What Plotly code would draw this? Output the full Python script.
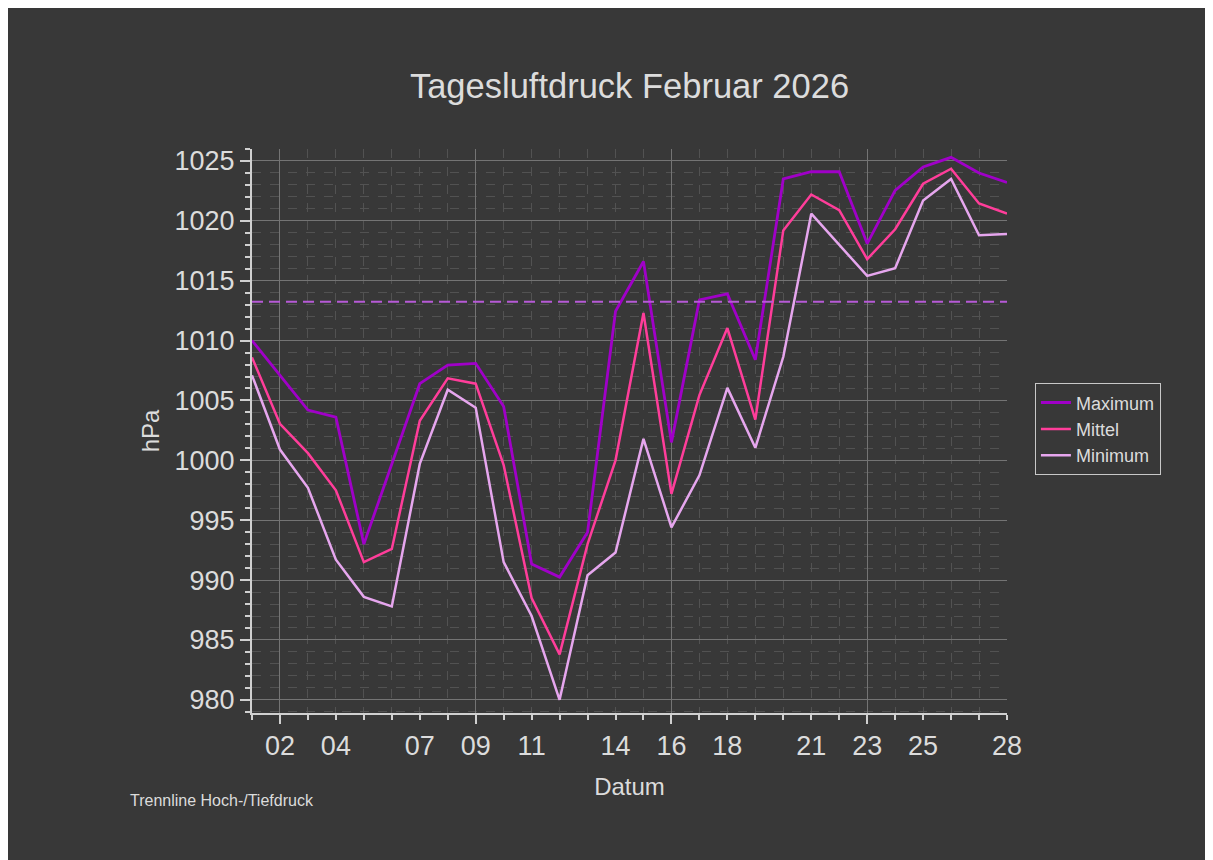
import plotly.graph_objects as go

# Tageswerte Luftdruck Februar 2026 (hPa)
tage = ["2026-02-%02d" % d for d in range(1, 29)]
maximum = [1010.0, 1007.1, 1004.2, 1003.6, 993.0, 999.7, 1006.4, 1007.95, 1008.1, 1004.5,
           991.35, 990.25, 994.0, 1012.45, 1016.6, 1001.5, 1013.4, 1013.9, 1008.4, 1023.5,
           1024.1, 1024.1, 1018.1, 1022.55, 1024.5, 1025.3, 1024.0, 1023.2]
mittel = [1008.6, 1003.05, 1000.6, 997.5, 991.5, 992.6, 1003.3, 1006.85, 1006.4, 999.6,
          988.5, 983.8, 993.0, 1000.0, 1012.3, 997.2, 1005.45, 1011.05, 1003.4, 1019.2,
          1022.2, 1020.9, 1016.8, 1019.3, 1023.1, 1024.35, 1021.45, 1020.6]
minimum = [1007.1, 1000.9, 997.7, 991.7, 988.6, 987.8, 999.7, 1005.9, 1004.4, 991.5,
           987.0, 980.0, 990.4, 992.3, 1001.8, 994.4, 998.75, 1006.05, 1001.05, 1008.65,
           1020.6, 1018.0, 1015.4, 1016.05, 1021.7, 1023.5, 1018.8, 1018.9]
trennlinie = 1013.25

label_tage = ["2026-02-02", "2026-02-04", "2026-02-07", "2026-02-09", "2026-02-11", "2026-02-14",
              "2026-02-16", "2026-02-18", "2026-02-21", "2026-02-23", "2026-02-25", "2026-02-28"]
label_text = ["02", "04", "07", "09", "11", "14", "16", "18", "21", "23", "25", "28"]
wochen_tage = ["2026-02-02", "2026-02-09", "2026-02-16", "2026-02-23"]

bg = "#383838"
txt = "#dcdcdc"
achse = "#d0d0d0"

fig = go.Figure()
fig.add_trace(go.Scatter(x=tage, y=maximum, mode="lines", name="Maximum",
                         line=dict(color="#a000c8", width=2.8)))
fig.add_trace(go.Scatter(x=tage, y=mittel, mode="lines", name="Mittel",
                         line=dict(color="#ff3d9a", width=2.5)))
fig.add_trace(go.Scatter(x=tage, y=minimum, mode="lines", name="Minimum",
                         line=dict(color="#e6a6ee", width=2.5)))
# unsichtbare Spur, damit die Beschriftungsachse gezeichnet wird
fig.add_trace(go.Scatter(x=tage, y=mittel, xaxis="x2", mode="lines", opacity=0,
                         showlegend=False, hoverinfo="skip"))

fig.add_shape(type="line", xref="paper", x0=0, x1=1, yref="y", y0=trennlinie, y1=trennlinie,
              line=dict(color="#b65ad6", width=2, dash="11px,6px"), layer="above")

fig.update_layout(
    width=1213, height=860,
    paper_bgcolor=bg, plot_bgcolor=bg,
    font=dict(family="Arial, 'Liberation Sans', sans-serif", color=txt),
    margin=dict(l=244, r=214, t=141, b=155),
    title=dict(text="Tagesluftdruck Februar 2026", x=0.5, xref="paper", xanchor="center",
               y=1 - 78 / 860, yref="container", yanchor="middle",
               font=dict(size=34.5, color=txt)),
    legend=dict(x=1.037, y=0.503, xanchor="left", yanchor="middle", bgcolor=bg,
                bordercolor="#c8c8c8", borderwidth=1, font=dict(size=18, color=txt)),
    showlegend=True,
    annotations=[dict(text="Trennline Hoch-/Tiefdruck", xref="paper", yref="paper",
                      x=-0.1642, y=-0.156, xanchor="left", yanchor="middle",
                      showarrow=False, font=dict(size=16, color=txt))],
)

fig.update_xaxes(
    type="date", range=["2026-02-01", "2026-02-28"],
    tickmode="array", tickvals=wochen_tage, showticklabels=False,
    ticks="outside", ticklen=9, tickwidth=2, tickcolor=achse,
    showline=True, linecolor=achse, linewidth=2,
    showgrid=True, gridcolor="#747474", gridwidth=1, zeroline=False,
    minor=dict(dtick=86400000, tick0="2026-02-01", ticks="outside", ticklen=5, tickwidth=2,
               tickcolor=achse, showgrid=True, gridcolor="#525252", griddash="dash"),
    title=dict(text="Datum", font=dict(size=24, color=txt), standoff=55),
)

fig.update_layout(xaxis2=dict(
    type="date", range=["2026-02-01", "2026-02-28"], overlaying="x", anchor="y", side="bottom",
    tickmode="array", tickvals=label_tage, ticktext=label_text, ticks="",
    showgrid=False, showline=False, zeroline=False, ticklabelstandoff=14,
    tickfont=dict(size=27, color=txt),
))

fig.update_yaxes(
    range=[978.9, 1026], tickmode="linear", tick0=980, dtick=5,
    ticks="outside", ticklen=10, tickwidth=2, tickcolor=achse,
    showline=True, linecolor=achse, linewidth=2,
    showgrid=True, gridcolor="#747474", gridwidth=1, zeroline=False,
    tickfont=dict(size=27, color=txt),
    minor=dict(dtick=1, ticks="outside", ticklen=5, tickwidth=2, tickcolor=achse,
               showgrid=True, gridcolor="#525252", griddash="dash"),
    title=dict(text="hPa", font=dict(size=24, color=txt), standoff=8),
)

fig.write_html("out.html")
